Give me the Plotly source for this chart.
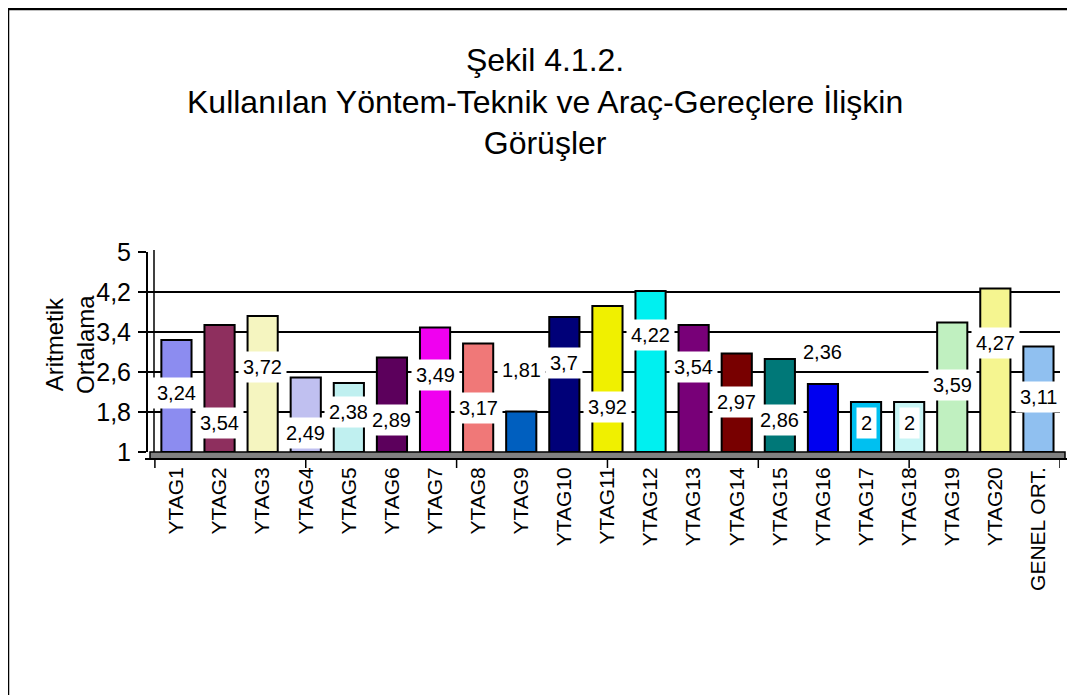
import plotly.graph_objects as go

categories = ["YTAG1", "YTAG2", "YTAG3", "YTAG4", "YTAG5", "YTAG6", "YTAG7",
              "YTAG8", "YTAG9", "YTAG10", "YTAG11", "YTAG12", "YTAG13", "YTAG14",
              "YTAG15", "YTAG16", "YTAG17", "YTAG18", "YTAG19", "YTAG20", "GENEL ORT."]
values = [3.24, 3.54, 3.72, 2.49, 2.38, 2.89, 3.49, 3.17, 1.81, 3.70, 3.92,
          4.22, 3.54, 2.97, 2.86, 2.36, 2.00, 2.00, 3.59, 4.27, 3.11]
value_labels = ["3,24", "3,54", "3,72", "2,49", "2,38", "2,89", "3,49", "3,17",
                "1,81", "3,7", "3,92", "4,22", "3,54", "2,97", "2,86", "2,36",
                "2", "2", "3,59", "4,27", "3,11"]
# vertical position (axis units) where each data label box sits
label_pos = [2.18, 1.58, 2.70, 1.38, 1.80, 1.64, 2.54, 1.88, 2.64, 2.78, 1.90,
             3.34, 2.70, 2.00, 1.64, 3.00, 1.58, 1.58, 2.34, 3.18, 2.10]
colors = ["#8C8CF0", "#8E2F5E", "#F5F5C0", "#C0C0F0", "#C0F0F0", "#5C005C",
          "#F000F0", "#F07878", "#005FBF", "#000078", "#F0F000", "#00F0F0",
          "#780078", "#780000", "#007878", "#0000F0", "#00C0F0", "#C8F5F5",
          "#C0F0C0", "#F5F590", "#90C0F0"]
title_text = "Şekil 4.1.2.<br>Kullanılan Yöntem-Teknik ve Araç-Gereçlere İlişkin<br>Görüşler"
y_title = "Aritmetik<br>Ortalama"

OFF = 8  # page body margin
W, H = 1075 - OFF, 695 - OFF
L = 148 - OFF
T = 252 - OFF
B = H - (452 - OFF)
R = W - (1060 - OFF)
pw, ph = W - L - R, H - T - B


def px_x(px):
    return (px - OFF - L) / pw


def px_y(py):
    return (H - B - (py - OFF)) / ph


fig = go.Figure()
fig.add_trace(go.Bar(
    x=categories, y=[v - 1 for v in values], base=1,
    marker=dict(color=colors, line=dict(color="black", width=2)),
    width=0.7, hoverinfo="skip", showlegend=False,
))

annotations = []
for c, t, p in zip(categories, value_labels, label_pos):
    annotations.append(dict(x=c, y=p, xref="x", yref="y", text=t, showarrow=False,
                            bgcolor="white", borderpad=4,
                            font=dict(size=20, color="black")))

annotations.append(dict(
    x=px_x(545), y=px_y(101), xref="paper", yref="paper", text=title_text,
    showarrow=False, font=dict(size=32, color="black"), align="center",
    xanchor="center", yanchor="middle"))
annotations.append(dict(
    x=px_x(70), y=px_y(345), xref="paper", yref="paper",
    text=y_title, textangle=-90, showarrow=False,
    font=dict(size=24, color="black"), align="center",
    xanchor="center", yanchor="middle"))

shapes = []
# floor of the 3D chart
shapes.append(dict(type="rect", xref="paper", yref="paper",
                   x0=px_x(150), x1=px_x(1065), y0=px_y(459), y1=px_y(452),
                   fillcolor="#808080", line=dict(color="black", width=1.5),
                   layer="below"))
# front x axis line
shapes.append(dict(type="line", xref="paper", yref="paper",
                   x0=px_x(145), x1=px_x(1068), y0=px_y(459), y1=px_y(459),
                   line=dict(color="black", width=2)))
# x axis tick marks
for pos in [-0.5, 3, 6.5, 10, 13.5, 17, 20.5]:
    shapes.append(dict(type="line", xref="x", yref="paper",
                       x0=pos, x1=pos, y0=px_y(459), y1=px_y(468),
                       line=dict(color="black", width=1.5)))
# back wall left edge
shapes.append(dict(type="line", xref="paper", yref="paper",
                   x0=px_x(154), x1=px_x(154), y0=px_y(452), y1=px_y(250),
                   line=dict(color="black", width=1.5)))
# outer frame (left and top edges visible)
shapes.append(dict(type="rect", xref="paper", yref="paper",
                   x0=px_x(8), x1=px_x(1100), y0=px_y(9), y1=px_y(720),
                   line=dict(color="black", width=2.5), fillcolor="rgba(0,0,0,0)"))

fig.update_layout(
    width=W, height=H,
    margin=dict(l=L, r=R, t=T, b=B),
    paper_bgcolor="white", plot_bgcolor="white",
    separators=",.",
    font=dict(family="Liberation Sans, Arial, sans-serif", color="black"),
    bargap=0.3,
    annotations=annotations,
    shapes=shapes,
    xaxis=dict(
        type="category", range=[-0.66, 20.5], tickangle=-90,
        tickfont=dict(size=21), showgrid=False, showline=False, ticks="",
        ticklabelstandoff=10,
    ),
    yaxis=dict(
        range=[1, 5], tick0=1, dtick=0.8, showgrid=True, gridcolor="black",
        gridwidth=1.5, showline=True, linecolor="black", linewidth=2,
        ticks="outside", ticklen=8, tickcolor="black", tickwidth=1.5,
        tickfont=dict(size=25), zeroline=False, ticklabelstandoff=2,
    ),
)

fig.write_html("out.html")
